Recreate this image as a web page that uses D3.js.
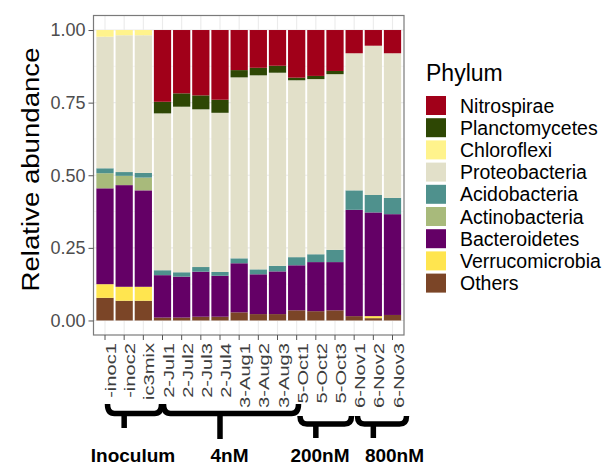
<!DOCTYPE html>
<head>
  <meta charset="utf-8">
  <title>Relative abundance by phylum</title>
  <script src="https://d3js.org/d3.v7.min.js"></script>
  <style>
    body { margin: 0; background: #fff; }
    text { font-family: "Liberation Sans", Arial, sans-serif; }
  </style>
</head>
<body>
  <div id="chart"></div>
  <script type="text/javascript">

    // sample names (x axis), as they appear in the picture
    var samples = ['-inoc1', '-inoc2', 'ic3mix', '2-Jul1', '2-Jul2', '2-Jul3', '2-Jul4',
                   '3-Aug1', '3-Aug2', '3-Aug3', '5-Oct1', '5-Oct2', '5-Oct3',
                   '6-Nov1', '6-Nov2', '6-Nov3'];

    // legend order (top to bottom)
    var phyla = ['Nitrospirae', 'Planctomycetes', 'Chloroflexi', 'Proteobacteria',
                 'Acidobacteria', 'Actinobacteria', 'Bacteroidetes', 'Verrucomicrobia', 'Others'];

    var phylumColors = ['#a10019', '#2e4704', '#fff38c', '#e2e0c9',
                        '#4f918d', '#a8ba7b', '#640066', '#ffe54f', '#7b4527'];

    // relative abundance per phylum, one value per sample
    var nitrospirae     = [0, 0, 0, 0.247, 0.218, 0.225, 0.240, 0.138, 0.130, 0.123, 0.164, 0.158, 0.141, 0.080, 0.054, 0.080];
    var planctomycetes  = [0, 0, 0, 0.040, 0.046, 0.048, 0.045, 0.025, 0.026, 0.024, 0.009, 0.011, 0.011, 0, 0, 0];
    var chloroflexi     = [0.023, 0.018, 0.018, 0, 0, 0, 0, 0, 0, 0, 0, 0, 0, 0, 0, 0];
    var proteobacteria  = [0.453, 0.471, 0.474, 0.540, 0.570, 0.543, 0.548, 0.623, 0.668, 0.665, 0.609, 0.603, 0.605, 0.472, 0.514, 0.498];
    var acidobacteria   = [0.017, 0.013, 0.016, 0.017, 0.015, 0.016, 0.013, 0.017, 0.017, 0.019, 0.028, 0.027, 0.042, 0.067, 0.060, 0.056];
    var actinobacteria  = [0.052, 0.032, 0.044, 0, 0, 0, 0, 0, 0, 0, 0, 0, 0, 0, 0, 0];
    var bacteroidetes   = [0.330, 0.350, 0.332, 0.146, 0.141, 0.155, 0.141, 0.169, 0.137, 0.147, 0.155, 0.169, 0.166, 0.366, 0.357, 0.347];
    var verrucomicrobia = [0.047, 0.048, 0.048, 0, 0, 0, 0, 0, 0, 0, 0, 0, 0, 0, 0.007, 0];
    var others          = [0.078, 0.068, 0.068, 0.010, 0.010, 0.013, 0.013, 0.028, 0.022, 0.022, 0.035, 0.032, 0.035, 0.015, 0.008, 0.019];

    var yTicks = [0, 0.25, 0.5, 0.75, 1];
    var yMinorTicks = [0.125, 0.375, 0.625, 0.875];

    // treatment groups drawn under the axis labels
    var groupNames = ['Inoculum', '4nM', '200nM', '800nM'];
    var groupFirst = [0, 3, 10, 13];
    var groupLast  = [2, 9, 12, 15];

    var values = [nitrospirae, planctomycetes, chloroflexi, proteobacteria,
                  acidobacteria, actinobacteria, bacteroidetes, verrucomicrobia, others];

    // build rows for d3.stack
    var rows = samples.map(function (s, i) {
      var row = { sample: s };
      phyla.forEach(function (p, j) { row[p] = values[j][i]; });
      return row;
    });

    var width = 606, height = 467;
    var panel = { left: 93.5, right: 404, top: 15.5, bottom: 335 };

    var svg = d3.select('#chart').append('svg')
      .attr('width', width)
      .attr('height', height);

    var xScale = d3.scaleBand()
      .domain(samples)
      .range([panel.left, panel.right])
      .paddingInner(0.1)
      .paddingOuter(0.15);

    var yScale = d3.scaleLinear()
      .domain([-0.05, 1.05])
      .range([panel.bottom, panel.top]);

    var colorScale = d3.scaleOrdinal().domain(phyla).range(phylumColors);

    // grid lines (theme_bw style)
    var grid = svg.append('g');
    yMinorTicks.forEach(function (v) {
      grid.append('line')
        .attr('x1', panel.left).attr('x2', panel.right)
        .attr('y1', yScale(v)).attr('y2', yScale(v))
        .attr('stroke', '#f0f0f0').attr('stroke-width', 0.6);
    });
    yTicks.forEach(function (v) {
      grid.append('line')
        .attr('x1', panel.left).attr('x2', panel.right)
        .attr('y1', yScale(v)).attr('y2', yScale(v))
        .attr('stroke', '#ebebeb').attr('stroke-width', 1.1);
    });
    samples.forEach(function (s) {
      var cx = xScale(s) + xScale.bandwidth() / 2;
      grid.append('line')
        .attr('x1', cx).attr('x2', cx)
        .attr('y1', panel.top).attr('y2', panel.bottom)
        .attr('stroke', '#ebebeb').attr('stroke-width', 1.1);
    });

    // stacked bars, bottom layer = Others
    var stack = d3.stack().keys(phyla.slice().reverse());
    var layers = stack(rows);

    svg.append('g')
      .selectAll('g')
      .data(layers)
      .enter()
      .append('g')
        .attr('fill', function (d) { return colorScale(d.key); })
      .selectAll('rect')
      .data(function (d) { return d; })
      .enter()
      .append('rect')
        .attr('x', function (d) { return xScale(d.data.sample); })
        .attr('width', xScale.bandwidth())
        .attr('y', function (d) { return yScale(d[1]); })
        .attr('height', function (d) { return Math.max(0, yScale(d[0]) - yScale(d[1])); });

    // panel border
    svg.append('rect')
      .attr('x', panel.left).attr('y', panel.top)
      .attr('width', panel.right - panel.left)
      .attr('height', panel.bottom - panel.top)
      .attr('fill', 'none')
      .attr('stroke', '#7a7a7a')
      .attr('stroke-width', 1.2);

    // y axis
    var yAxis = d3.axisLeft(yScale)
      .tickValues(yTicks)
      .tickSize(5)
      .tickPadding(3)
      .tickFormat(d3.format('.2f'));

    var yAxisG = svg.append('g')
      .attr('transform', 'translate(' + panel.left + ',0)')
      .call(yAxis);
    yAxisG.select('.domain').remove();
    yAxisG.selectAll('line').attr('stroke', '#555');
    yAxisG.selectAll('text')
      .attr('fill', '#4d4d4d')
      .style('font-size', '18px')
      .style('font-family', '"Liberation Sans", Arial, sans-serif');

    // x axis
    var xAxis = d3.axisBottom(xScale).tickSize(5).tickFormat('');
    var xAxisG = svg.append('g')
      .attr('transform', 'translate(0,' + panel.bottom + ')')
      .call(xAxis);
    xAxisG.select('.domain').remove();
    xAxisG.selectAll('line').attr('stroke', '#555');

    svg.append('g')
      .selectAll('text')
      .data(samples)
      .enter()
      .append('text')
        .attr('transform', function (d) {
          var cx = xScale(d) + xScale.bandwidth() / 2;
          return 'translate(' + cx + ',' + 343 + ') rotate(-90) scale(1.3,1)';
        })
        .attr('dy', '0.71em')
        .attr('text-anchor', 'end')
        .attr('fill', '#3d3d3d')
        .style('font-size', '15.5px')
        .text(function (d) { return d; });

    // y axis title
    svg.append('text')
      .attr('transform', 'translate(39,' + 169.5 + ') rotate(-90) scale(1.15,1)')
      .attr('text-anchor', 'middle')
      .attr('fill', '#000')
      .style('font-size', '24px')
      .text('Relative abundance');

    // legend
    var legend = svg.append('g');
    legend.append('text')
      .attr('x', 426)
      .attr('y', 81)
      .style('font-size', '23px')
      .text('Phylum');

    var item = legend.selectAll('g.item')
      .data(phyla)
      .enter()
      .append('g')
        .attr('class', 'item')
        .attr('transform', function (d, i) { return 'translate(426,' + (105.5 + i * 22.2) + ')'; });

    item.append('rect')
      .attr('x', 0).attr('y', -9.5)
      .attr('width', 20).attr('height', 19)
      .attr('fill', function (d) { return colorScale(d); });

    item.append('text')
      .attr('x', 34)
      .attr('dy', '0.36em')
      .style('font-size', '19.5px')
      .text(function (d) { return d; });

    // group brackets under the sample labels
    var bracketTop = [404, 404, 416, 416];
    var bracketMid = [413.5, 413.5, 424, 424];
    var bracketEnd = [428, 439, 438, 438];
    var bracketLeft = [107.5, 163.5, 300, 357.5];
    var bracketRight = [161.5, 298.5, 351.5, 406.5];

    var brackets = svg.append('g')
      .attr('fill', 'none')
      .attr('stroke', '#000')
      .attr('stroke-width', 5.5);

    groupNames.forEach(function (g, i) {
      var x0 = bracketLeft[i], x1 = bracketRight[i];
      var xm = (xScale(samples[groupFirst[i]]) + xScale(samples[groupLast[i]]) + xScale.bandwidth()) / 2;
      var yT = bracketTop[i], yH = bracketMid[i];
      var p = d3.path();
      p.moveTo(x0, yT);
      p.quadraticCurveTo(x0, yH, x0 + 7, yH);
      p.lineTo(x1 - 7, yH);
      p.quadraticCurveTo(x1, yH, x1, yT);
      p.moveTo(xm, yH);
      p.lineTo(xm, bracketEnd[i]);
      brackets.append('path').attr('d', p.toString());
    });

    // group names
    var labelX = [133, 229.5, 320, 394.5];
    svg.append('g')
      .selectAll('text')
      .data(groupNames)
      .enter()
      .append('text')
        .attr('x', function (d, i) { return labelX[i]; })
        .attr('y', 462)
        .attr('text-anchor', 'middle')
        .style('font-size', '19px')
        .style('font-weight', 'bold')
        .text(function (d) { return d; });
  </script>
</body>
